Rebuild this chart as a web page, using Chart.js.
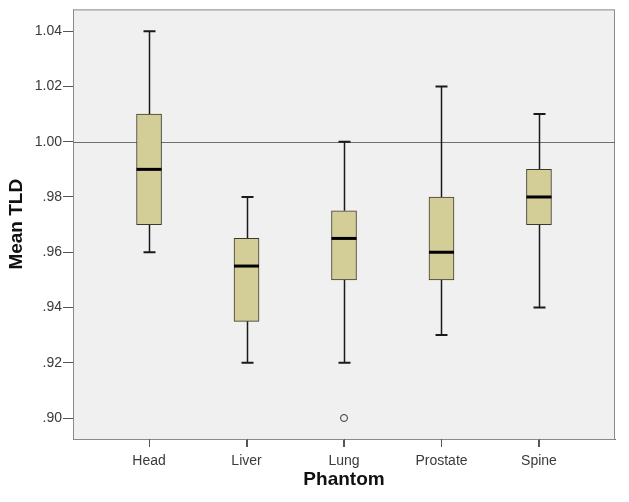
<!DOCTYPE html>
<html>
<head>
<meta charset="utf-8">
<script src="https://cdn.jsdelivr.net/npm/chart.js@4/dist/chart.umd.min.js"></script>
<style>
  html, body { margin: 0; padding: 0; background: #fff; }
  #wrap { width: 629px; height: 502px; }
</style>
</head>
<body>
<div id="wrap"><canvas id="myChart"></canvas></div>
<script>
// box plot values
const phantoms = ["Head", "Liver", "Lung", "Prostate", "Spine"];
const whiskerLow = [0.96, 0.92, 0.92, 0.93, 0.94];
const q1 = [0.97, 0.935, 0.95, 0.95, 0.97];
const medians = [0.99, 0.955, 0.965, 0.96, 0.98];
const q3 = [1.01, 0.965, 0.975, 0.98, 0.99];
const whiskerHigh = [1.04, 0.98, 1.00, 1.02, 1.01];
const outliers = [{x: 3, y: 0.90}];
const yTicks = [0.90, 0.92, 0.94, 0.96, 0.98, 1.00, 1.02, 1.04];
const refLine = 1.00;

const boxData = [];
for (let i = 0; i < phantoms.length; i++) {
  boxData.push({x: i + 1, y: [q1[i], q3[i]]});
}

const boxWidth = 25;

// plot background, reference line, whiskers and medians
const boxPlugin = {
  id: 'boxExtras',
  beforeDatasetsDraw(chart) {
    const ctx = chart.ctx;
    const a = chart.chartArea;
    const xs = chart.scales.x, ys = chart.scales.y;
    ctx.save();
    ctx.fillStyle = '#f0f0f0';
    ctx.fillRect(a.left, a.top, a.right - a.left, a.bottom - a.top);
    ctx.strokeStyle = '#8a8a8a';
    ctx.lineWidth = 1;
    ctx.strokeRect(a.left + 0.5, a.top + 0.5, a.right - a.left - 1, a.bottom - a.top);
    // reference line
    const ry = Math.round(ys.getPixelForValue(refLine)) + 0.5;
    ctx.strokeStyle = '#6e6e6e';
    ctx.beginPath();
    ctx.moveTo(a.left, ry);
    ctx.lineTo(a.right, ry);
    ctx.stroke();
    // whiskers
    ctx.strokeStyle = '#1a1a1a';
    for (let i = 0; i < phantoms.length; i++) {
      const cx = Math.round(xs.getPixelForValue(i + 1)) + 0.5;
      const yLo = ys.getPixelForValue(whiskerLow[i]);
      const yQ1 = ys.getPixelForValue(q1[i]);
      const yQ3 = ys.getPixelForValue(q3[i]);
      const yHi = ys.getPixelForValue(whiskerHigh[i]);
      ctx.lineWidth = 1.5;
      ctx.beginPath();
      ctx.moveTo(cx, yHi); ctx.lineTo(cx, yQ3);
      ctx.moveTo(cx, yQ1); ctx.lineTo(cx, yLo);
      ctx.stroke();
      ctx.lineWidth = 2;
      ctx.beginPath();
      ctx.moveTo(cx - 6, yHi); ctx.lineTo(cx + 6, yHi);
      ctx.moveTo(cx - 6, yLo); ctx.lineTo(cx + 6, yLo);
      ctx.stroke();
    }
    ctx.restore();
  },
  afterDatasetsDraw(chart) {
    const ctx = chart.ctx;
    const xs = chart.scales.x, ys = chart.scales.y;
    ctx.save();
    ctx.strokeStyle = '#000';
    ctx.lineWidth = 3;
    for (let i = 0; i < phantoms.length; i++) {
      const cx = xs.getPixelForValue(i + 1);
      const my = ys.getPixelForValue(medians[i]);
      ctx.beginPath();
      ctx.moveTo(cx - boxWidth / 2, my);
      ctx.lineTo(cx + boxWidth / 2, my);
      ctx.stroke();
    }
    ctx.restore();
  },
  afterDraw(chart) {
    // category tick marks under the x axis
    const ctx = chart.ctx;
    const xs = chart.scales.x;
    const b = chart.chartArea.bottom;
    ctx.save();
    ctx.strokeStyle = '#555';
    ctx.lineWidth = 1;
    ctx.beginPath();
    for (let i = 0; i < phantoms.length; i++) {
      const cx = Math.round(xs.getPixelForValue(i + 1)) + 0.5;
      ctx.moveTo(cx, b);
      ctx.lineTo(cx, b + 8);
    }
    ctx.stroke();
    ctx.restore();
  }
};

const data = {
  datasets: [{
    type: 'bar',
    label: 'box',
    data: boxData,
    backgroundColor: '#d3ce97',
    borderColor: '#3c3a2c',
    borderWidth: 1,
    borderSkipped: false,
    barThickness: boxWidth
  }, {
    type: 'scatter',
    label: 'outliers',
    data: outliers,
    pointStyle: 'circle',
    pointRadius: 3.5,
    pointBackgroundColor: '#f0f0f0',
    pointBorderColor: '#333',
    pointBorderWidth: 1
  }]
};

const tickFont = {family: 'Arial, "Liberation Sans", sans-serif', size: 14};
const titleFont = {family: 'Arial, "Liberation Sans", sans-serif', size: 19, weight: 'bold'};

const config = {
  data: data,
  options: {
    responsive: true,
    maintainAspectRatio: false,
    animation: false,
    layout: {padding: {top: 7, right: 14, left: 0, bottom: 0}},
    plugins: {legend: {display: false}, tooltip: {enabled: false}},
    scales: {
      x: {
        type: 'linear',
        offset: false,
        min: 0.22,
        max: 5.78,
        afterBuildTicks: s => { s.ticks = phantoms.map((p, i) => ({value: i + 1})); },
        afterFit: s => { s.height = 63; },
        ticks: {
          callback: v => phantoms[v - 1],
          font: tickFont,
          color: '#3a3a3a',
          padding: 6,
          maxRotation: 0
        },
        grid: {offset: false, drawOnChartArea: false, drawTicks: true, tickLength: 8, tickColor: '#555'},
        border: {display: true, color: '#6a6a6a', width: 1},
        title: {display: true, text: 'Phantom', font: titleFont, color: '#111', padding: {top: 0, bottom: 11}}
      },
      y: {
        type: 'linear',
        min: 0.8924,
        max: 1.0479,
        afterBuildTicks: s => { s.ticks = yTicks.map(v => ({value: v})); },
        afterFit: s => { s.width = 73; },
        ticks: {
          callback: v => v >= 1 ? v.toFixed(2) : v.toFixed(2).replace(/^0/, ''),
          font: tickFont,
          color: '#3a3a3a',
          padding: 1
        },
        grid: {drawOnChartArea: false, drawTicks: true, tickLength: 10, tickColor: '#555'},
        border: {display: true, color: '#6a6a6a', width: 1},
        title: {display: true, text: 'Mean TLD', font: titleFont, color: '#111', padding: {top: 5, bottom: 0}}
      }
    }
  },
  plugins: [boxPlugin]
};

const ctx = document.getElementById('myChart');
new Chart(ctx, config);
</script>
</body>
</html>
